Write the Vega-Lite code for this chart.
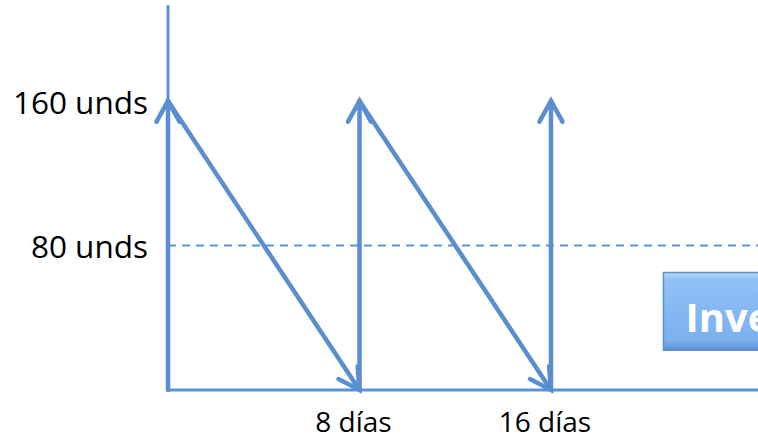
{
  "$schema": "https://vega.github.io/schema/vega-lite/v6.json",
  "width": 758,
  "height": 440,
  "autosize": {"type": "fit", "contains": "padding"},
  "padding": 0,
  "background": "white",
  "config": {"view": {"stroke": null}},
  "datasets": {
    "frame": [
      {"part": "units axis", "day": 0, "units": 0, "dayEnd": 0, "unitsEnd": 213},
      {"part": "time axis", "day": 0, "units": 0, "dayEnd": 26, "unitsEnd": 0}
    ],
    "average": [
      {"day": 0, "units": 80, "dayEnd": 26}
    ],
    "cycle": [
      {"kind": "restock", "day": 0, "units": 0, "dayEnd": 0, "unitsEnd": 160},
      {"kind": "consumption", "day": 0, "units": 160, "dayEnd": 8, "unitsEnd": 0},
      {"kind": "restock", "day": 8, "units": 0, "dayEnd": 8, "unitsEnd": 160},
      {"kind": "consumption", "day": 8, "units": 160, "dayEnd": 16, "unitsEnd": 0},
      {"kind": "restock", "day": 16, "units": 0, "dayEnd": 16, "unitsEnd": 160}
    ],
    "unitLabels": [
      {"units": 160, "label": "160 unds"},
      {"units": 80, "label": "80 unds"}
    ],
    "dayLabels": [
      {"day": 8, "label": "8 días"},
      {"day": 16, "label": "16 días"}
    ],
    "callout": [
      {"label": "Inventario promedio", "day": 20.7, "dayEnd": 27, "low": 22, "high": 65}
    ]
  },
  "encoding": {
    "x": {"type": "quantitative", "scale": {"domain": [-7.02, 24.65], "nice": false, "zero": false}, "axis": null},
    "y": {"type": "quantitative", "scale": {"domain": [-27.7, 215.9], "nice": false, "zero": false}, "axis": null}
  },
  "layer": [
    {
      "data": {"name": "frame"},
      "mark": {"type": "rule", "color": "#5b93d3", "strokeWidth": 3, "clip": true},
      "encoding": {
        "x": {"field": "day", "type": "quantitative"},
        "y": {"field": "units", "type": "quantitative"},
        "x2": {"field": "dayEnd"},
        "y2": {"field": "unitsEnd"}
      }
    },
    {
      "data": {"name": "average"},
      "mark": {"type": "rule", "color": "#5b93d3", "strokeWidth": 2, "strokeDash": [8, 6], "clip": true},
      "encoding": {
        "x": {"field": "day", "type": "quantitative"},
        "y": {"field": "units", "type": "quantitative"},
        "x2": {"field": "dayEnd"}
      }
    },
    {
      "data": {"name": "cycle"},
      "mark": {"type": "rule", "color": "#5b8ed0", "strokeWidth": 4.5, "strokeCap": "round"},
      "encoding": {
        "x": {"field": "day", "type": "quantitative"},
        "y": {"field": "units", "type": "quantitative"},
        "x2": {"field": "dayEnd"},
        "y2": {"field": "unitsEnd"}
      }
    },
    {
      "data": {"name": "cycle"},
      "transform": [{"filter": "datum.kind === 'restock'"}],
      "mark": {"type": "point", "shape": "M -1 1.8 L 0 0 L 1 1.8", "size": 529, "filled": false, "stroke": "#5b8ed0", "strokeWidth": 4.5, "strokeCap": "round", "strokeJoin": "miter", "opacity": 1, "angle": 0},
      "encoding": {
        "x": {"field": "dayEnd", "type": "quantitative"},
        "y": {"field": "unitsEnd", "type": "quantitative"}
      }
    },
    {
      "data": {"name": "cycle"},
      "transform": [{"filter": "datum.kind === 'consumption'"}],
      "mark": {"type": "point", "shape": "M -1 1.8 L 0 0 L 1 1.8", "size": 529, "filled": false, "stroke": "#5b8ed0", "strokeWidth": 4.5, "strokeCap": "round", "strokeJoin": "miter", "opacity": 1, "angle": 146.5},
      "encoding": {
        "x": {"field": "dayEnd", "type": "quantitative"},
        "y": {"field": "unitsEnd", "type": "quantitative"}
      }
    },
    {
      "data": {"name": "unitLabels"},
      "mark": {"type": "text", "font": "Open Sans", "fontSize": 31.5, "color": "#000000", "align": "right", "baseline": "middle", "dx": -20, "dy": 4},
      "encoding": {
        "x": {"datum": 0, "type": "quantitative"},
        "y": {"field": "units", "type": "quantitative"},
        "text": {"field": "label"}
      }
    },
    {
      "data": {"name": "dayLabels"},
      "mark": {"type": "text", "font": "Open Sans", "fontSize": 28, "color": "#000000", "align": "center", "baseline": "alphabetic", "dx": -6, "dy": 42},
      "encoding": {
        "x": {"field": "day", "type": "quantitative"},
        "y": {"datum": 0, "type": "quantitative"},
        "text": {"field": "label"}
      }
    },
    {
      "data": {"name": "callout"},
      "mark": {
        "type": "rect",
        "clip": true,
        "stroke": "#5f8fcf",
        "strokeWidth": 1.5,
        "color": {
          "gradient": "linear",
          "x1": 0, "y1": 0, "x2": 0, "y2": 1,
          "stops": [
            {"offset": 0, "color": "#b2d4fa"},
            {"offset": 0.1, "color": "#90c1f6"},
            {"offset": 0.88, "color": "#7bafee"},
            {"offset": 1, "color": "#5e90d4"}
          ]
        }
      },
      "encoding": {
        "x": {"field": "day", "type": "quantitative"},
        "x2": {"field": "dayEnd"},
        "y": {"field": "low", "type": "quantitative"},
        "y2": {"field": "high"}
      }
    },
    {
      "data": {"name": "callout"},
      "mark": {"type": "text", "clip": true, "font": "Open Sans", "fontWeight": "bold", "fontSize": 40, "color": "#ffffff", "align": "left", "baseline": "alphabetic", "dx": 22, "dy": -18},
      "encoding": {
        "x": {"field": "day", "type": "quantitative"},
        "y": {"field": "low", "type": "quantitative"},
        "text": {"field": "label"}
      }
    }
  ]
}
